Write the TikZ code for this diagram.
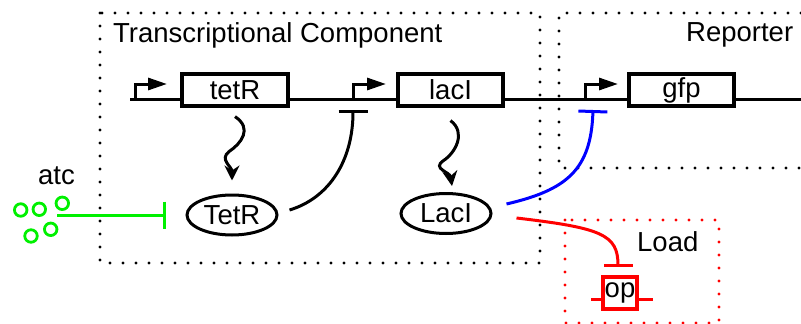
\documentclass[tikz,border=0pt]{standalone}
\usepackage{fontspec}
\setmainfont{Liberation Sans}
\usetikzlibrary{arrows.meta,shapes.geometric,calc}
\definecolor{atcgreen}{RGB}{0,240,0}

\begin{document}
\begin{tikzpicture}[x=1pt,y=-1pt,
  font=\fontsize{27.5}{32}\selectfont,
  dotbox/.style={line width=3.4pt, dash pattern=on 0pt off 13pt, line cap=round},
  gene/.style={draw, line width=3.2pt, fill=white, minimum width=105pt, minimum height=32pt, inner sep=0pt},
  protein/.style={draw, ellipse, line width=3pt, minimum width=90pt, minimum height=40pt, inner sep=0pt},
  dna/.style={line width=3pt},
  prom/.style={line width=3pt, line join=miter, -{Triangle[length=19pt,width=12pt]}},
  express/.style={line width=3pt, -{Stealth[length=15pt,width=15pt,inset=5pt]}},
  repress/.style={line width=3pt, -{Bar[width=29pt]}},
  molecule/.style={circle, draw=atcgreen, line width=2.8pt, minimum size=12.5pt, inner sep=0pt},
  label/.style={anchor=base west, inner sep=0pt},
]
\useasboundingbox (0,0) rectangle (801,324);

% module frames
\draw[dotbox] (100,13) rectangle (540,263);
\draw[dotbox] (801,13) -- (559,13) -- (559,168) -- (801,168);
\draw[dotbox, red] (565,220) rectangle (719,323);

\node[label] (tclab) at (113,42) {Transcriptional Component};
\node[label] (replab) at (686,41) {Reporter};
\node[label] (loadlab) at (637,251) {Load};
\node[label] (atclab) at (38,184) {atc};

% DNA strand with promoters
\coordinate (dnaL) at (130,99);
\coordinate (dnaR) at (801,99);
\draw[dna] (dnaL) -- (dnaR);

\coordinate (p1) at (135,99);
\coordinate (p1t) at (167,84);
\coordinate (p2) at (353,99);
\coordinate (p2t) at (386,84);
\coordinate (p3) at (585,99);
\coordinate (p3t) at (618,84);
\draw[prom] (p1) |- (p1t);
\draw[prom] (p2) |- (p2t);
\draw[prom] (p3) |- (p3t);

% genes
\node[gene, minimum width=106pt] (tetR) at (235,90) {tetR};
\node[gene] (lacI) at (450.5,90) {lacI};
\node[gene] (gfp) at (681.5,90) {gfp};

% proteins
\node[protein] (TetR) at (232,215) {TetR};
\node[protein] (LacI) at (446,213.5) {LacI};

% expression
\draw[express] ([yshift=-9pt]tetR.south)
  .. controls +(18,12) and +(12,-8) .. ++(-6,35)
  .. controls +(-10,8) and +(0,-14) .. ([yshift=13pt]TetR.north);
\draw[express] ([yshift=-13pt]lacI.south)
  .. controls +(16,12) and +(12,-8) .. ++(-7,40)
  .. controls +(-12,8) and +(-2,-14) .. ([xshift=6pt,yshift=6pt]LacI.north);

% repression of the lacI promoter by TetR
\draw[repress] ([xshift=11pt,yshift=5pt]TetR.east)
  .. controls +(40,-12) and +(0,50) .. ([yshift=-11pt]p2);

% repression of the gfp promoter by LacI
\draw[repress, blue] ([xshift=14pt,yshift=9.5pt]LacI.east)
  .. controls +(60,-14) and +(-2,60) .. ([xshift=8pt,yshift=-11pt]p3);

% load: operator site bound by LacI
\node[draw=red, line width=3.2pt, minimum width=34pt, minimum height=32pt, inner sep=0pt] (op) at (620,293) {op};
\draw[red, line width=3pt] ([yshift=-6pt]op.west) -- ++(-10,0);
\draw[red, line width=3pt] ([yshift=-6pt]op.east) -- ++(14,0);
\draw[repress, red] ([xshift=24pt,yshift=-4.5pt]LacI.east)
  .. controls +(85,10) and +(0,-33) .. ([xshift=-2pt,yshift=8pt]op.north);

% inducer molecules
\node[molecule] (a1) at (20.7,210) {};
\node[molecule] (a2) at (39.3,209.3) {};
\node[molecule] (a3) at (62.3,203.3) {};
\node[molecule] (a4) at (31,236) {};
\node[molecule] (a5) at (50.7,229.3) {};
\coordinate (atcsrc) at (57,215);
\draw[atcgreen, line width=3pt, -{Bar[width=27pt]}] (atcsrc) -- ([xshift=-20pt]TetR.west);
\end{tikzpicture}
\end{document}
